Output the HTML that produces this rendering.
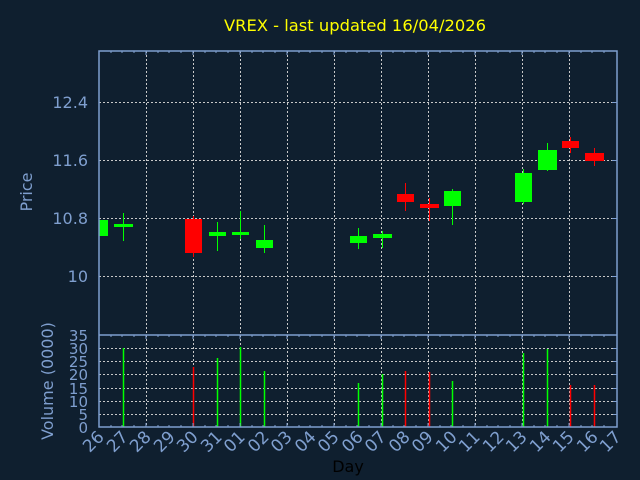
<!DOCTYPE html>
<html><head><meta charset="utf-8"><style>html,body{margin:0;padding:0;background:#0f1f2f;}svg{display:block}</style></head>
<body>
<svg width="640" height="480" xmlns="http://www.w3.org/2000/svg" font-family="DejaVu Sans, Liberation Sans, sans-serif">
<rect width="640" height="480" fill="#0f1f2f"/>
<text x="355" y="31" fill="#ffff00" font-size="16" text-anchor="middle" textLength="262" lengthAdjust="spacingAndGlyphs">VREX - last updated 16/04/2026</text>
<g stroke="#c8c8c8" stroke-dasharray="2,2" stroke-width="1">
<line x1="99" y1="102.5" x2="617" y2="102.5"/>
<line x1="99" y1="160.5" x2="617" y2="160.5"/>
<line x1="99" y1="218.5" x2="617" y2="218.5"/>
<line x1="99" y1="276.5" x2="617" y2="276.5"/>
<line x1="99" y1="348.5" x2="617" y2="348.5"/>
<line x1="99" y1="361.5" x2="617" y2="361.5"/>
<line x1="99" y1="374.5" x2="617" y2="374.5"/>
<line x1="99" y1="388.5" x2="617" y2="388.5"/>
<line x1="99" y1="401.5" x2="617" y2="401.5"/>
<line x1="99" y1="414.5" x2="617" y2="414.5"/>
<line x1="146.5" y1="51" x2="146.5" y2="427"/>
<line x1="193.5" y1="51" x2="193.5" y2="427"/>
<line x1="240.5" y1="51" x2="240.5" y2="427"/>
<line x1="287.5" y1="51" x2="287.5" y2="427"/>
<line x1="334.5" y1="51" x2="334.5" y2="427"/>
<line x1="381.5" y1="51" x2="381.5" y2="427"/>
<line x1="428.5" y1="51" x2="428.5" y2="427"/>
<line x1="475.5" y1="51" x2="475.5" y2="427"/>
<line x1="522.5" y1="51" x2="522.5" y2="427"/>
<line x1="569.5" y1="51" x2="569.5" y2="427"/>
</g>
<g>
<rect x="99" y="220" width="9" height="16" fill="#00ff00"/>
<line x1="123.5" y1="213" x2="123.5" y2="241" stroke="#00ff00"/><rect x="114" y="224" width="19" height="3" fill="#00ff00"/>
<line x1="193.5" y1="216" x2="193.5" y2="257" stroke="#ff0000"/><rect x="185" y="219" width="17" height="34" fill="#ff0000"/>
<line x1="217.5" y1="222" x2="217.5" y2="251" stroke="#00ff00"/><rect x="209" y="232" width="17" height="4" fill="#00ff00"/>
<line x1="240.5" y1="211" x2="240.5" y2="239" stroke="#00ff00"/><rect x="232" y="232" width="17" height="3" fill="#00ff00"/>
<line x1="264.5" y1="225" x2="264.5" y2="253" stroke="#00ff00"/><rect x="256" y="240" width="17" height="8" fill="#00ff00"/>
<line x1="358.5" y1="228" x2="358.5" y2="249" stroke="#00ff00"/><rect x="350" y="236" width="17" height="7" fill="#00ff00"/>
<line x1="382.5" y1="231" x2="382.5" y2="248" stroke="#00ff00"/><rect x="373" y="234" width="19" height="4" fill="#00ff00"/>
<line x1="405.5" y1="183" x2="405.5" y2="211" stroke="#ff0000"/><rect x="397" y="194" width="17" height="8" fill="#ff0000"/>
<line x1="429.5" y1="198" x2="429.5" y2="221" stroke="#ff0000"/><rect x="420" y="204" width="19" height="4" fill="#ff0000"/>
<line x1="452.5" y1="189" x2="452.5" y2="225" stroke="#00ff00"/><rect x="444" y="191" width="17" height="15" fill="#00ff00"/>
<line x1="523.5" y1="169" x2="523.5" y2="204" stroke="#00ff00"/><rect x="515" y="173" width="17" height="29" fill="#00ff00"/>
<line x1="547.5" y1="143" x2="547.5" y2="171" stroke="#00ff00"/><rect x="538" y="150" width="19" height="20" fill="#00ff00"/>
<line x1="570.5" y1="137" x2="570.5" y2="153" stroke="#ff0000"/><rect x="562" y="141" width="17" height="7" fill="#ff0000"/>
<line x1="594.5" y1="148" x2="594.5" y2="166" stroke="#ff0000"/><rect x="585" y="153" width="19" height="8" fill="#ff0000"/>
</g>
<g stroke-width="1.5">
<line x1="123.5" y1="348" x2="123.5" y2="427" stroke="#00ff00"/>
<line x1="193.5" y1="367" x2="193.5" y2="427" stroke="#ff0000"/>
<line x1="217.5" y1="358" x2="217.5" y2="427" stroke="#00ff00"/>
<line x1="240.5" y1="347" x2="240.5" y2="427" stroke="#00ff00"/>
<line x1="264.5" y1="371" x2="264.5" y2="427" stroke="#00ff00"/>
<line x1="358.5" y1="383" x2="358.5" y2="427" stroke="#00ff00"/>
<line x1="382.5" y1="374" x2="382.5" y2="427" stroke="#00ff00"/>
<line x1="405.5" y1="371" x2="405.5" y2="427" stroke="#ff0000"/>
<line x1="429.5" y1="372" x2="429.5" y2="427" stroke="#ff0000"/>
<line x1="452.5" y1="381" x2="452.5" y2="427" stroke="#00ff00"/>
<line x1="523.5" y1="353" x2="523.5" y2="427" stroke="#00ff00"/>
<line x1="547.5" y1="349" x2="547.5" y2="427" stroke="#00ff00"/>
<line x1="570.5" y1="385" x2="570.5" y2="427" stroke="#ff0000"/>
<line x1="594.5" y1="385" x2="594.5" y2="427" stroke="#ff0000"/>
</g>
<g stroke="#7f9fcf" fill="none" stroke-width="1.5">
<rect x="99" y="51" width="518" height="376"/>
<line x1="99" y1="335" x2="617" y2="335"/>
</g>
<g stroke="#7f9fcf" stroke-width="1">
<path d="M99,51v4M111,51v2M122,51v2M134,51v2M146,51v4M158,51v2M169,51v2M181,51v2M193,51v4M205,51v2M216,51v2M228,51v2M240,51v4M252,51v2M263,51v2M275,51v2M287,51v4M299,51v2M310,51v2M322,51v2M334,51v4M346,51v2M357,51v2M369,51v2M381,51v4M393,51v2M404,51v2M416,51v2M428,51v4M440,51v2M451,51v2M463,51v2M475,51v4M487,51v2M498,51v2M510,51v2M522,51v4M534,51v2M545,51v2M557,51v2M569,51v4M581,51v2M592,51v2M604,51v2"/>
<path d="M99,335v4M111,335v2M122,335v2M134,335v2M146,335v4M158,335v2M169,335v2M181,335v2M193,335v4M205,335v2M216,335v2M228,335v2M240,335v4M252,335v2M263,335v2M275,335v2M287,335v4M299,335v2M310,335v2M322,335v2M334,335v4M346,335v2M357,335v2M369,335v2M381,335v4M393,335v2M404,335v2M416,335v2M428,335v4M440,335v2M451,335v2M463,335v2M475,335v4M487,335v2M498,335v2M510,335v2M522,335v4M534,335v2M545,335v2M557,335v2M569,335v4M581,335v2M592,335v2M604,335v2"/>
<path d="M99,427v-4M111,427v-2M122,427v-2M134,427v-2M146,427v-4M158,427v-2M169,427v-2M181,427v-2M193,427v-4M205,427v-2M216,427v-2M228,427v-2M240,427v-4M252,427v-2M263,427v-2M275,427v-2M287,427v-4M299,427v-2M310,427v-2M322,427v-2M334,427v-4M346,427v-2M357,427v-2M369,427v-2M381,427v-4M393,427v-2M404,427v-2M416,427v-2M428,427v-4M440,427v-2M451,427v-2M463,427v-2M475,427v-4M487,427v-2M498,427v-2M510,427v-2M522,427v-4M534,427v-2M545,427v-2M557,427v-2M569,427v-4M581,427v-2M592,427v-2M604,427v-2"/>
<path d="M617,102.5h-5M617,160.5h-5M617,218.5h-5M617,276.5h-5M617,348.5h-4M617,361.5h-4M617,374.5h-4M617,388.5h-4M617,401.5h-4M617,414.5h-4"/>
</g>
<g fill="#7f9fcf" font-size="16" text-anchor="end">
<text x="88" y="108">12.4</text>
<text x="88" y="166">11.6</text>
<text x="88" y="224">10.8</text>
<text x="88" y="282">10</text>
<g font-size="15">
<text x="88" y="341">35</text>
<text x="88" y="354">30</text>
<text x="88" y="367">25</text>
<text x="88" y="380">20</text>
<text x="88" y="394">15</text>
<text x="88" y="407">10</text>
<text x="88" y="420">5</text>
<text x="88" y="433">0</text>
</g>
</g>
<text transform="translate(32,192) rotate(-90)" fill="#7f9fcf" font-size="16" text-anchor="middle">Price</text>
<text transform="translate(53,381) rotate(-90)" fill="#7f9fcf" font-size="16" text-anchor="middle">Volume (0000)</text>
<g fill="#7f9fcf" font-size="17" text-anchor="end">
<text transform="translate(105,438) rotate(-45)">26</text>
<text transform="translate(129,438) rotate(-45)">27</text>
<text transform="translate(152,438) rotate(-45)">28</text>
<text transform="translate(176,438) rotate(-45)">29</text>
<text transform="translate(199,438) rotate(-45)">30</text>
<text transform="translate(223,438) rotate(-45)">31</text>
<text transform="translate(246,438) rotate(-45)">01</text>
<text transform="translate(270,438) rotate(-45)">02</text>
<text transform="translate(293,438) rotate(-45)">03</text>
<text transform="translate(317,438) rotate(-45)">04</text>
<text transform="translate(340,438) rotate(-45)">05</text>
<text transform="translate(364,438) rotate(-45)">06</text>
<text transform="translate(387,438) rotate(-45)">07</text>
<text transform="translate(411,438) rotate(-45)">08</text>
<text transform="translate(434,438) rotate(-45)">09</text>
<text transform="translate(458,438) rotate(-45)">10</text>
<text transform="translate(481,438) rotate(-45)">11</text>
<text transform="translate(505,438) rotate(-45)">12</text>
<text transform="translate(528,438) rotate(-45)">13</text>
<text transform="translate(552,438) rotate(-45)">14</text>
<text transform="translate(575,438) rotate(-45)">15</text>
<text transform="translate(599,438) rotate(-45)">16</text>
<text transform="translate(622,438) rotate(-45)">17</text>
</g>
<text x="348" y="472" fill="#000000" font-size="16" text-anchor="middle">Day</text>
</svg>
</body></html>
